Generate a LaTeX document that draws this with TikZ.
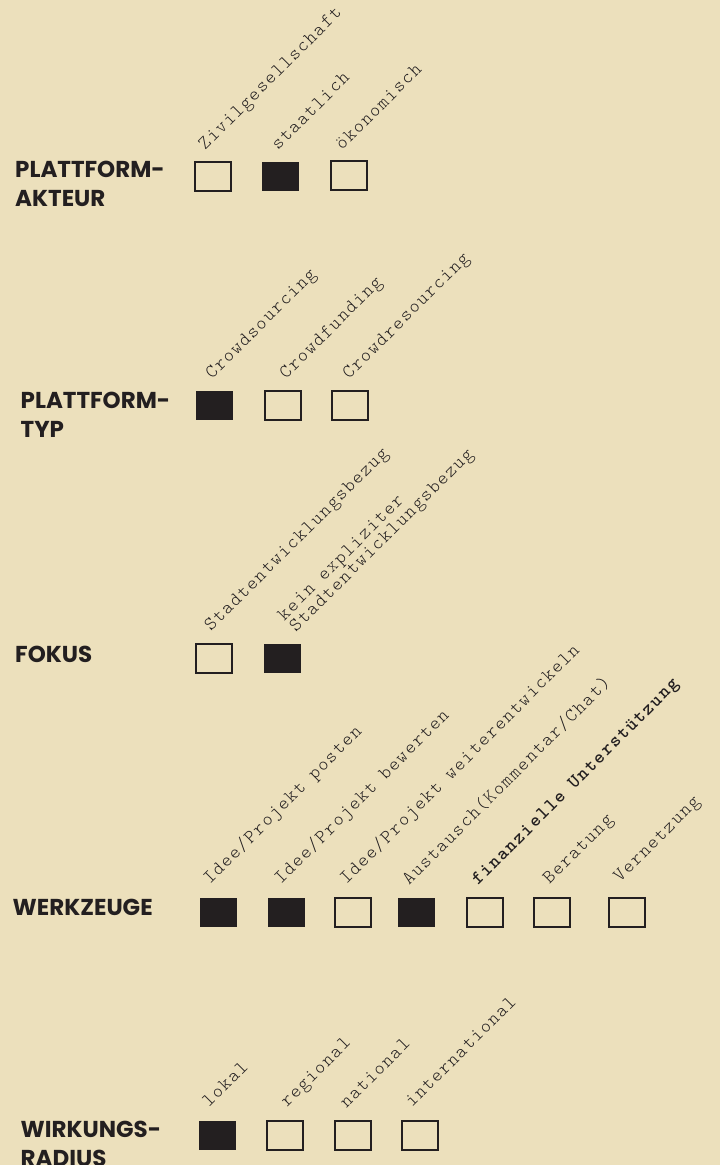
\documentclass[tikz,border=0pt]{standalone}
\usepackage{fontspec}
\newfontfamily\headfont{Poppins}
\newfontfamily\labfont{lmmonolt10-regular}[Extension=.otf, LetterSpace=8]
\newfontfamily\labboldfont{lmmonolt10-bold}[Extension=.otf, LetterSpace=8]
\definecolor{paper}{RGB}{236,224,188}
\definecolor{ink}{RGB}{35,31,32}
\tikzset{
  headlbl/.style={font=\headfont\bfseries\fontsize{23}{28.5}\selectfont, text=ink,
    anchor=base west, align=left, inner sep=0pt},
  optlbl/.style={font=\labfont\fontsize{19}{16.5}\selectfont, text=ink, rotate=45,
    anchor=base west, align=left, inner sep=0pt},
  optbold/.style={optlbl, font=\labboldfont\fontsize{19}{16.5}\selectfont},
  boxoff/.style={draw=ink, line width=2pt, minimum width=36pt, minimum height=29pt, inner sep=0pt},
  boxon/.style={fill=ink, minimum width=37pt, minimum height=29pt, inner sep=0pt},
}
\begin{document}
\begin{tikzpicture}[x=1pt,y=-1pt]
\fill[paper] (0,0) rectangle (720,1165);
\useasboundingbox (0,0) rectangle (720,1165);
\begin{scope}
\clip (0,0) rectangle (720,1165);

% Plattform-Akteur (multi-line nodes are anchored on their last line)
\node[headlbl] (h1) at (15,206) {PLATTFORM-\\AKTEUR};
\node[boxoff] (a1) at (212.5,176) {};
\node[boxon]  (a2) at (280.5,176.5) {};
\node[boxoff] (a3) at (348.5,175.5) {};
\node[optlbl] (la1) at (205,151) {Zivilgesellschaft};
\node[optlbl] (la2) at (278,151) {staatlich};
\node[optlbl] (la3) at (342,151) {ökonomisch};

% Plattform-Typ
\node[headlbl] (h2) at (20.5,437) {PLATTFORM-\\TYP};
\node[boxon]  (t1) at (214.5,405.5) {};
\node[boxoff] (t2) at (282.5,405) {};
\node[boxoff] (t3) at (350,405.5) {};
\node[optlbl] (lt1) at (212,380) {Crowdsourcing};
\node[optlbl] (lt2) at (286,380) {Crowdfunding};
\node[optlbl] (lt3) at (349,380) {Crowdresourcing};

% Fokus
\node[headlbl] (h3) at (15,662) {FOKUS};
\node[boxoff] (f1) at (214,658) {};
\node[boxon]  (f2) at (282.5,658) {};
\node[optlbl] (lf1) at (211,632) {Stadtentwicklungsbezug};
\node[optlbl] (lf2) at (296,633) {kein expliziter\\Stadtentwicklungsbezug};

% Werkzeuge
\node[headlbl] (h4) at (12.5,915.5) {WERKZEUGE};
\node[boxon]  (w1) at (218.5,912) {};
\node[boxon]  (w2) at (286.5,912.5) {};
\node[boxoff] (w3) at (353,912) {};
\node[boxon]  (w4) at (416,912) {};
\node[boxoff] (w5) at (484.5,912) {};
\node[boxoff] (w6) at (552,912) {};
\node[boxoff] (w7) at (627,912) {};
\node[optlbl]  (lw1) at (210,885) {Idee/Projekt posten};
\node[optlbl]  (lw2) at (281,885) {Idee/Projekt bewerten};
\node[optlbl]  (lw3) at (346.5,885) {Idee/Projekt weiterentwickeln};
\node[optlbl]  (lw4) at (409,886) {Austausch(Kommentar/Chat)};
\node[optbold] (lw5) at (478,886) {finanzielle Unterstützung};
\node[optlbl]  (lw6) at (549.5,885) {Beratung};
\node[optlbl]  (lw7) at (620,883) {Vernetzung};

% Wirkungsradius
\node[headlbl] (h5) at (20.5,1166) {WIRKUNGS-\\RADIUS};
\node[boxon]  (r1) at (217.5,1135) {};
\node[boxoff] (r2) at (285,1135.5) {};
\node[boxoff] (r3) at (353,1135.5) {};
\node[boxoff] (r4) at (419.5,1135.5) {};
\node[optlbl] (lr1) at (209,1108) {lokal};
\node[optlbl] (lr2) at (287,1108) {regional};
\node[optlbl] (lr3) at (346.5,1109) {national};
\node[optlbl] (lr4) at (412,1108) {international};
\end{scope}
\end{tikzpicture}
\end{document}
